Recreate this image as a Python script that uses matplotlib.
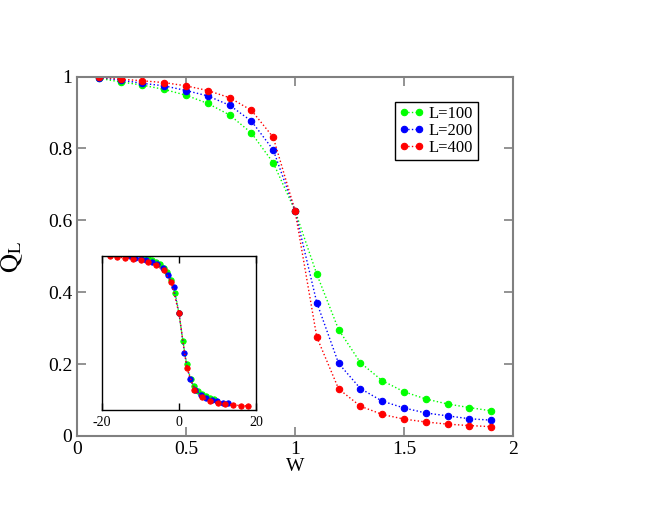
import numpy as np
import matplotlib
matplotlib.use("Agg")
import matplotlib.pyplot as plt

plt.rcParams['font.family'] = ['Liberation Serif', 'DejaVu Serif']
plt.rcParams['mathtext.fontset'] = 'stix'
plt.rcParams['axes.unicode_minus'] = False

# data
W = [0.1, 0.2, 0.3, 0.4, 0.5, 0.6, 0.7, 0.8, 0.9, 1.0,
     1.1, 1.2, 1.3, 1.4, 1.5, 1.6, 1.7, 1.8, 1.9]
Q100 = [0.995, 0.985, 0.976, 0.964, 0.948, 0.925, 0.893, 0.843, 0.760, 0.627,
        0.450, 0.296, 0.204, 0.154, 0.123, 0.103, 0.089, 0.079, 0.070]
Q200 = [0.997, 0.990, 0.981, 0.974, 0.961, 0.946, 0.920, 0.876, 0.796, 0.627,
        0.371, 0.202, 0.132, 0.097, 0.078, 0.064, 0.056, 0.048, 0.044]
Q400 = [0.998, 0.993, 0.988, 0.983, 0.974, 0.961, 0.941, 0.906, 0.831, 0.627,
        0.275, 0.131, 0.083, 0.060, 0.047, 0.039, 0.033, 0.029, 0.026]
sizes = [100, 200, 400]
colors = ['#00ff00', '#0000ff', '#ff0000']

# scaling used for the inset: (W - Wc) * L^(1/nu)
Wc = 1.0
inv_nu = 0.5

fig = plt.figure(figsize=(6.64, 5.13), dpi=100)
ax = fig.add_axes([77/664, 77/513, 436/664, 359.5/513])

W = np.array(W)
for L, Q, c in zip(sizes, [Q100, Q200, Q400], colors):
    ax.plot(W, Q, ls=':', lw=1, color=c, marker='o', ms=4.6, mew=0.8,
            mec=c, mfc=c, label='L=%d' % L)

ax.set_xlim(0, 2)
ax.set_ylim(0, 1)
ax.set_xticks([0, 0.5, 1, 1.5, 2])
ax.set_xticklabels(['0', '0.5', '1', '1.5', '2'])
ax.set_yticks([0, 0.2, 0.4, 0.6, 0.8, 1])
ax.set_yticklabels(['0', '0.2', '0.4', '0.6', '0.8', '1'])
for s in ax.spines.values():
    s.set_color('#808080')
    s.set_linewidth(1.5)
ax.tick_params(direction='in', length=6.2, width=1.2, color='#808080',
               top=True, right=True, labelsize=14)
ax.tick_params(axis='x', pad=3.5)
ax.tick_params(axis='y', pad=3.5)

ax.set_xlabel('W', fontsize=14)
ax.xaxis.set_label_coords(0.5, -0.062)
ax.set_ylabel(r'$\mathrm{Q_L}$', fontsize=19)
ax.yaxis.set_label_coords(-0.119, 0.5)

leg = ax.legend(loc='upper left', bbox_to_anchor=(0.729, 0.929), borderaxespad=0,
                fontsize=12, numpoints=2, handlelength=1.5, handletextpad=0.3,
                labelspacing=0.05, borderpad=0.25, fancybox=False, framealpha=1)
leg.get_frame().set_edgecolor('black')
leg.get_frame().set_linewidth(1)

# inset with rescaled variable
ins = fig.add_axes([102/664, 103/513, 154/664, 154/513])
for L, Q, c in zip(sizes, [Q100, Q200, Q400], colors):
    x = (W - Wc) * L ** inv_nu
    ins.plot(x, Q, ls=':', lw=1, color=c, marker='o', ms=3.9, mew=0.6,
             mec=c, mfc=c)
ins.set_xlim(-20, 20)
ins.set_ylim(0, 1)
ins.set_xticks([-20, 0, 20])
ins.set_yticks([])
for s in ins.spines.values():
    s.set_color('black')
    s.set_linewidth(1)
ins.tick_params(direction='in', length=5, width=1, top=True, labelsize=10, pad=4)

fig.savefig('out.png', dpi=100)
